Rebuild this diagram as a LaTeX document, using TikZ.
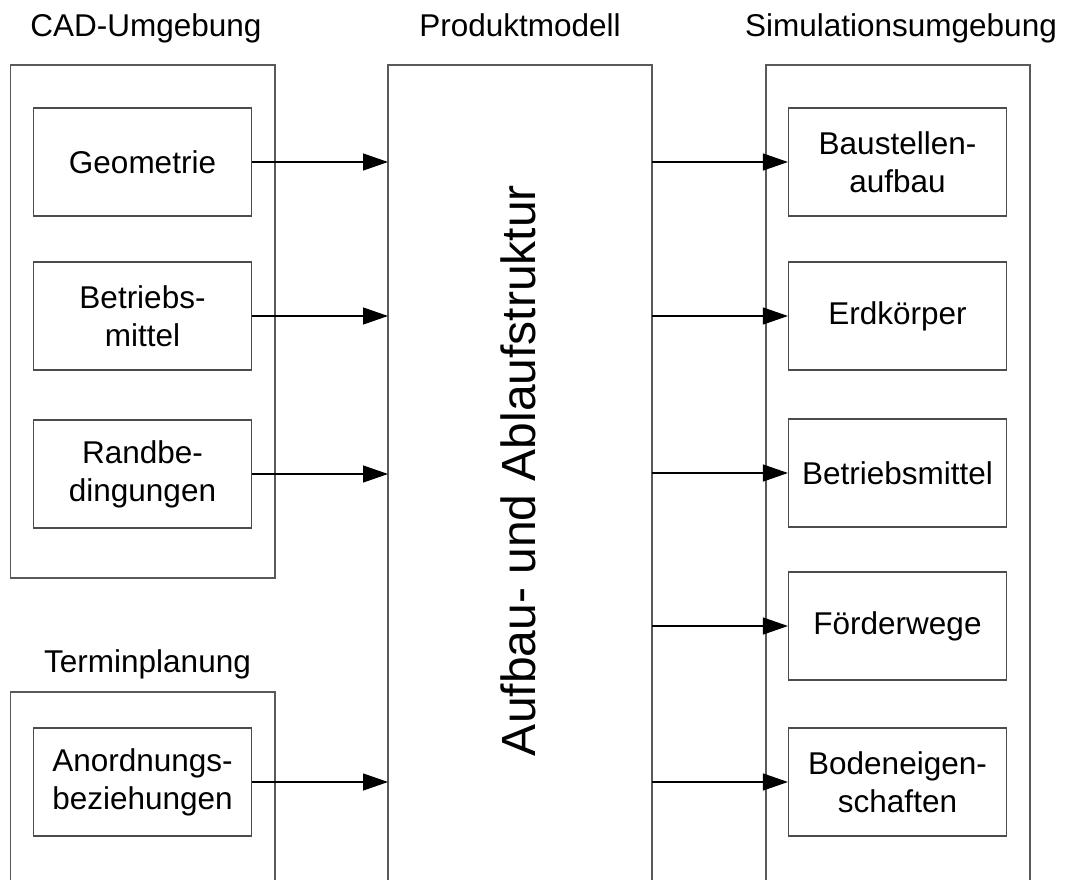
\documentclass[tikz,border=0pt]{standalone}
\usepackage{fontspec}
\setmainfont{Liberation Sans}
\usetikzlibrary{arrows.meta}
\begin{document}
\begin{tikzpicture}[x=1pt,y=-1pt,
  frame/.style={draw=black!65,line width=1.1pt},
  item/.style={draw=black!70,line width=1.1pt,minimum width=218pt,minimum height=108pt,
    inner sep=0pt,align=center,font=\fontsize{31.5}{38}\selectfont},
  head/.style={font=\fontsize{31.5}{36}\selectfont,inner sep=0pt,anchor=base},
  flow/.style={draw=black,line width=1.3pt,-{Triangle[length=25pt,width=17pt]}}]
\useasboundingbox (0,0) rectangle (1066,880);
\begin{scope}
\clip (0,0) rectangle (1066,880);
% column frames (open at the bottom edge)
\draw[frame] (10.5,65) rectangle (275,578);
\draw[frame] (10.5,692) rectangle (275,900);
\draw[frame] (388,65) rectangle (652,900);
\draw[frame] (766,65) rectangle (1030,900);
\end{scope}
% frame anchors
\coordinate (pmL) at (388,0);
\coordinate (pmR) at (652,0);
% headings
\node[head] (hcad) at (146,37) {CAD-Umgebung};
\node[head] (hpm) at (520,37) {Produktmodell};
\node[head] (hsim) at (901,37) {Simulationsumgebung};
\node[head] (hterm) at (147.5,672) {Terminplanung};
% product model label
\node[font=\fontsize{48}{50}\selectfont,rotate=90,inner sep=0pt,anchor=base] (pm) at (535,470.5) {Aufbau- und Ablaufstruktur};
% left items
\node[item] (geo) at (142.5,162) {Geometrie};
\node[item] (bm) at (142.5,316) {Betriebs-\\mittel};
\node[item] (rb) at (142.5,474) {Randbe-\\dingungen};
\node[item] (an) at (142.5,782) {Anordnungs-\\beziehungen};
% right items
\node[item] (bau) at (897.5,162) {Baustellen-\\aufbau};
\node[item] (erd) at (897.5,316) {Erdkörper};
\node[item] (bmr) at (897.5,473) {Betriebsmittel};
\node[item] (foe) at (897.5,626) {Förderwege};
\node[item] (bod) at (897.5,782) {Bodeneigen-\\schaften};
% connectors into the product model
\foreach \n in {geo,bm,rb,an}
  \draw[flow] (\n.east) -- (\n.east -| pmL);
% connectors out of the product model
\foreach \n in {bau,erd,bmr,foe,bod}
  \draw[flow] (\n.west -| pmR) -- (\n.west);
\end{tikzpicture}
\end{document}
